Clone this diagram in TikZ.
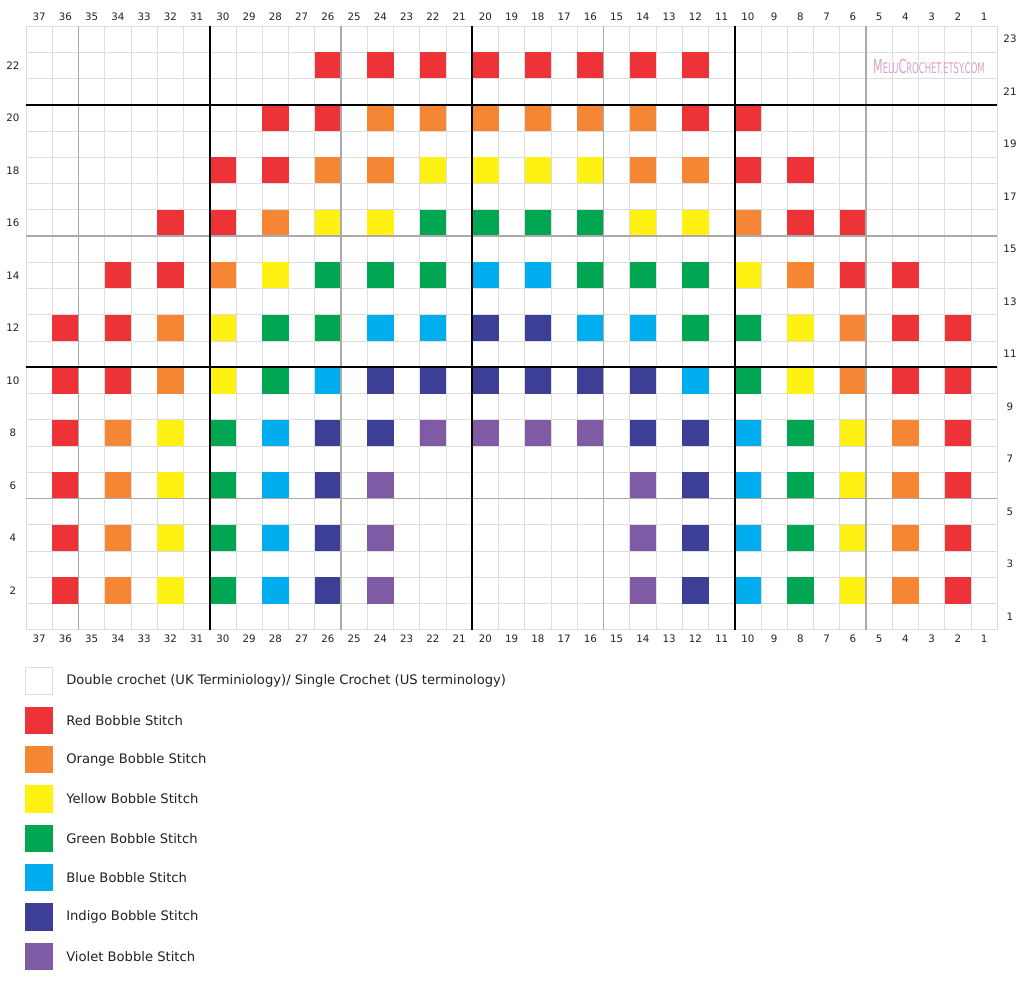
\documentclass[tikz,border=0pt]{standalone}
\usepackage{fontspec}
\setmainfont{DejaVu Sans}
\newfontfamily\wmfont{DejaVu Sans Condensed}
\definecolor{cR}{HTML}{EE3338}
\definecolor{cO}{HTML}{F58634}
\definecolor{cY}{HTML}{FFF212}
\definecolor{cG}{HTML}{00A651}
\definecolor{cB}{HTML}{00AEEF}
\definecolor{cI}{HTML}{3C3F95}
\definecolor{cV}{HTML}{7F5AA5}
\definecolor{gridlight}{HTML}{DDDDDD}
\definecolor{gridmid}{HTML}{AAAAAA}
\definecolor{wm}{HTML}{D8A2CC}
\definecolor{txt}{HTML}{222222}
\newcommand{\cw}{26.25}
\begin{document}
\begin{tikzpicture}[x=0.75pt,y=-0.75pt,
  numlbl/.style={font=\fontsize{7.7}{8}\selectfont,text=txt,inner sep=0pt},
  leglbl/.style={font=\fontsize{9.85}{11}\selectfont,text=txt,inner sep=0pt,anchor=west},
  thin grid/.style={draw=gridlight,line width=0.6pt},
  mid line/.style={draw=gridmid,line width=1.4pt},
  major line/.style={draw=black,line width=1.5pt},
  legbox/.style={minimum width=19.7pt,minimum height=19.7pt,inner sep=0pt,line width=0.6pt}]
\useasboundingbox (0,0) rectangle (1024,984);
\fill[white] (0,0) rectangle (1024,984);
% light grid
\foreach \k in {0,...,37} \draw[thin grid] ({26+\k*\cw},26) -- ({26+\k*\cw},{26+23*\cw});
\foreach \k in {0,...,23} \draw[thin grid] (26,{26+\k*\cw}) -- ({26+37*\cw},{26+\k*\cw});
% stitches
\foreach \r/\lst in {
 22/{26/R,24/R,22/R,20/R,18/R,16/R,14/R,12/R},
 20/{28/R,26/R,24/O,22/O,20/O,18/O,16/O,14/O,12/R,10/R},
 18/{30/R,28/R,26/O,24/O,22/Y,20/Y,18/Y,16/Y,14/O,12/O,10/R,8/R},
 16/{32/R,30/R,28/O,26/Y,24/Y,22/G,20/G,18/G,16/G,14/Y,12/Y,10/O,8/R,6/R},
 14/{34/R,32/R,30/O,28/Y,26/G,24/G,22/G,20/B,18/B,16/G,14/G,12/G,10/Y,8/O,6/R,4/R},
 12/{36/R,34/R,32/O,30/Y,28/G,26/G,24/B,22/B,20/I,18/I,16/B,14/B,12/G,10/G,8/Y,6/O,4/R,2/R},
 10/{36/R,34/R,32/O,30/Y,28/G,26/B,24/I,22/I,20/I,18/I,16/I,14/I,12/B,10/G,8/Y,6/O,4/R,2/R},
 8/{36/R,34/O,32/Y,30/G,28/B,26/I,24/I,22/V,20/V,18/V,16/V,14/I,12/I,10/B,8/G,6/Y,4/O,2/R},
 6/{36/R,34/O,32/Y,30/G,28/B,26/I,24/V,14/V,12/I,10/B,8/G,6/Y,4/O,2/R},
 4/{36/R,34/O,32/Y,30/G,28/B,26/I,24/V,14/V,12/I,10/B,8/G,6/Y,4/O,2/R},
 2/{36/R,34/O,32/Y,30/G,28/B,26/I,24/V,14/V,12/I,10/B,8/G,6/Y,4/O,2/R}}
 {\foreach \c/\clr in \lst
   \fill[c\clr] ({26+(37-\c)*\cw},{26+(23-\r)*\cw}) rectangle ++(\cw,\cw);}
% section lines
\foreach \k in {2,12,22,32} \draw[mid line] ({26+\k*\cw},26) -- ({26+\k*\cw},{26+23*\cw});
\foreach \k in {8,18} \draw[mid line] (26,{26+\k*\cw}) -- ({26+37*\cw},{26+\k*\cw});
\foreach \k in {7,17,27} \draw[major line] ({26+\k*\cw},26) -- ({26+\k*\cw},{26+23*\cw});
\foreach \k in {3,13} \draw[major line] (26,{26+\k*\cw}) -- ({26+37*\cw},{26+\k*\cw});
% column numbers
\foreach \c in {1,...,37} {
  \node[numlbl] (top\c) at ({26+(37-\c+0.5)*\cw},17) {\c};
  \node[numlbl] (bot\c) at ({26+(37-\c+0.5)*\cw},639) {\c};
}
% row numbers
\foreach \r in {2,4,...,22} \node[numlbl] (rowL\r) at (13,{26+(23-\r+0.5)*\cw}) {\r};
\foreach \r in {1,3,...,23} \node[numlbl] (rowR\r) at (1010,{26+(23-\r+0.5)*\cw}) {\r};
% watermark
\node[inner sep=0pt,text=wm,font=\wmfont,xscale=0.64] (wmark) at (929,66)
  {{\fontsize{14.5}{15}\selectfont M}{\fontsize{11}{11}\selectfont ELU}{\fontsize{14.5}{15}\selectfont C}{\fontsize{11}{11}\selectfont ROCHET.ETSY.COM}};
% legend
\foreach \i/\clr/\bd/\lab in {
  0/white/gridlight/{Double crochet (UK Terminiology)/ Single Crochet (US terminology)},
  1/cR/cR/{Red Bobble Stitch},
  2/cO/cO/{Orange Bobble Stitch},
  3/cY/cY/{Yellow Bobble Stitch},
  4/cG/cG/{Green Bobble Stitch},
  5/cB/cB/{Blue Bobble Stitch},
  6/cI/cI/{Indigo Bobble Stitch},
  7/cV/cV/{Violet Bobble Stitch}} {
  \node[legbox,fill=\clr,draw=\bd] (key\i) at (39,{681+\i*39.3}) {};
  \node[leglbl] (keylab\i) at (66,{681+\i*39.3}) {\lab};
}
\end{tikzpicture}
\end{document}
